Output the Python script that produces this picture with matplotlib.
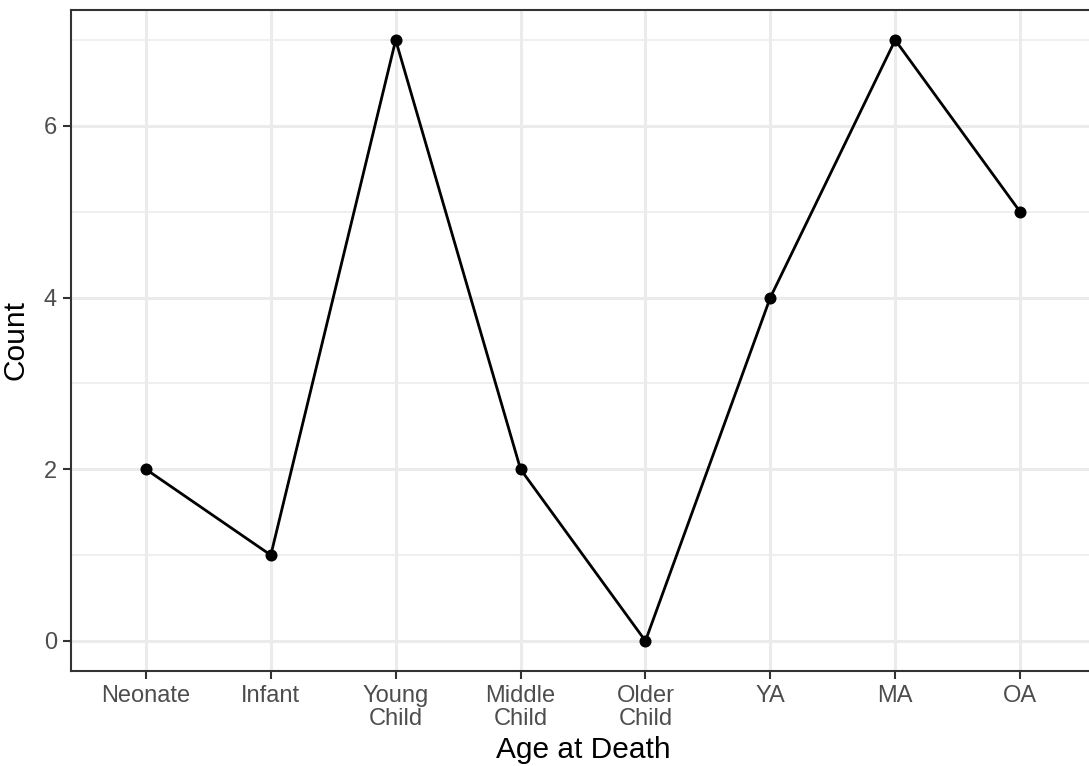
import matplotlib.pyplot as plt
import numpy as np

# age classes and counts
age_classes = ['Neonate', 'Infant', 'Young\nChild', 'Middle\nChild',
               'Older\nChild', 'YA', 'MA', 'OA']
counts = [2, 1, 7, 2, 0, 4, 7, 5]

plt.rcParams['font.family'] = ['Liberation Sans', 'DejaVu Sans']

fig = plt.figure(figsize=(10.89, 7.66), dpi=100)
# panel runs slightly past the right edge, like the cropped original
ax = fig.add_axes([71 / 1089, 95 / 766, 1024 / 1089, 661 / 766])

x = np.arange(1, len(age_classes) + 1)
ax.plot(x, counts, color='black', lw=2, zorder=3)
ax.scatter(x, counts, s=75, color='black', zorder=4, linewidths=0)

ax.set_xlim(0.4, 8.6)
ax.set_ylim(-0.35, 7.35)
ax.set_xticks(x)
ax.set_xticklabels(age_classes, linespacing=1.08)
ax.set_yticks([0, 2, 4, 6])
ax.set_yticks([1, 3, 5, 7], minor=True)

# theme_bw look
ax.grid(which='major', color='#EBEBEB', lw=2.2, zorder=0)
ax.grid(which='minor', axis='y', color='#EBEBEB', lw=1.1, zorder=0)
ax.set_axisbelow(True)
for s in ax.spines.values():
    s.set_color('#333333')
    s.set_linewidth(1.5)

ax.tick_params(which='major', length=6, width=1.5, color='#333333',
               labelcolor='#4D4D4D', labelsize=17, pad=4)
ax.tick_params(which='minor', length=0)

ax.set_xlabel('Age at Death', fontsize=21.5, color='black', labelpad=4)
ax.set_ylabel('Count', fontsize=21.5, color='black', labelpad=10)

fig.savefig('out.png', dpi=100)
